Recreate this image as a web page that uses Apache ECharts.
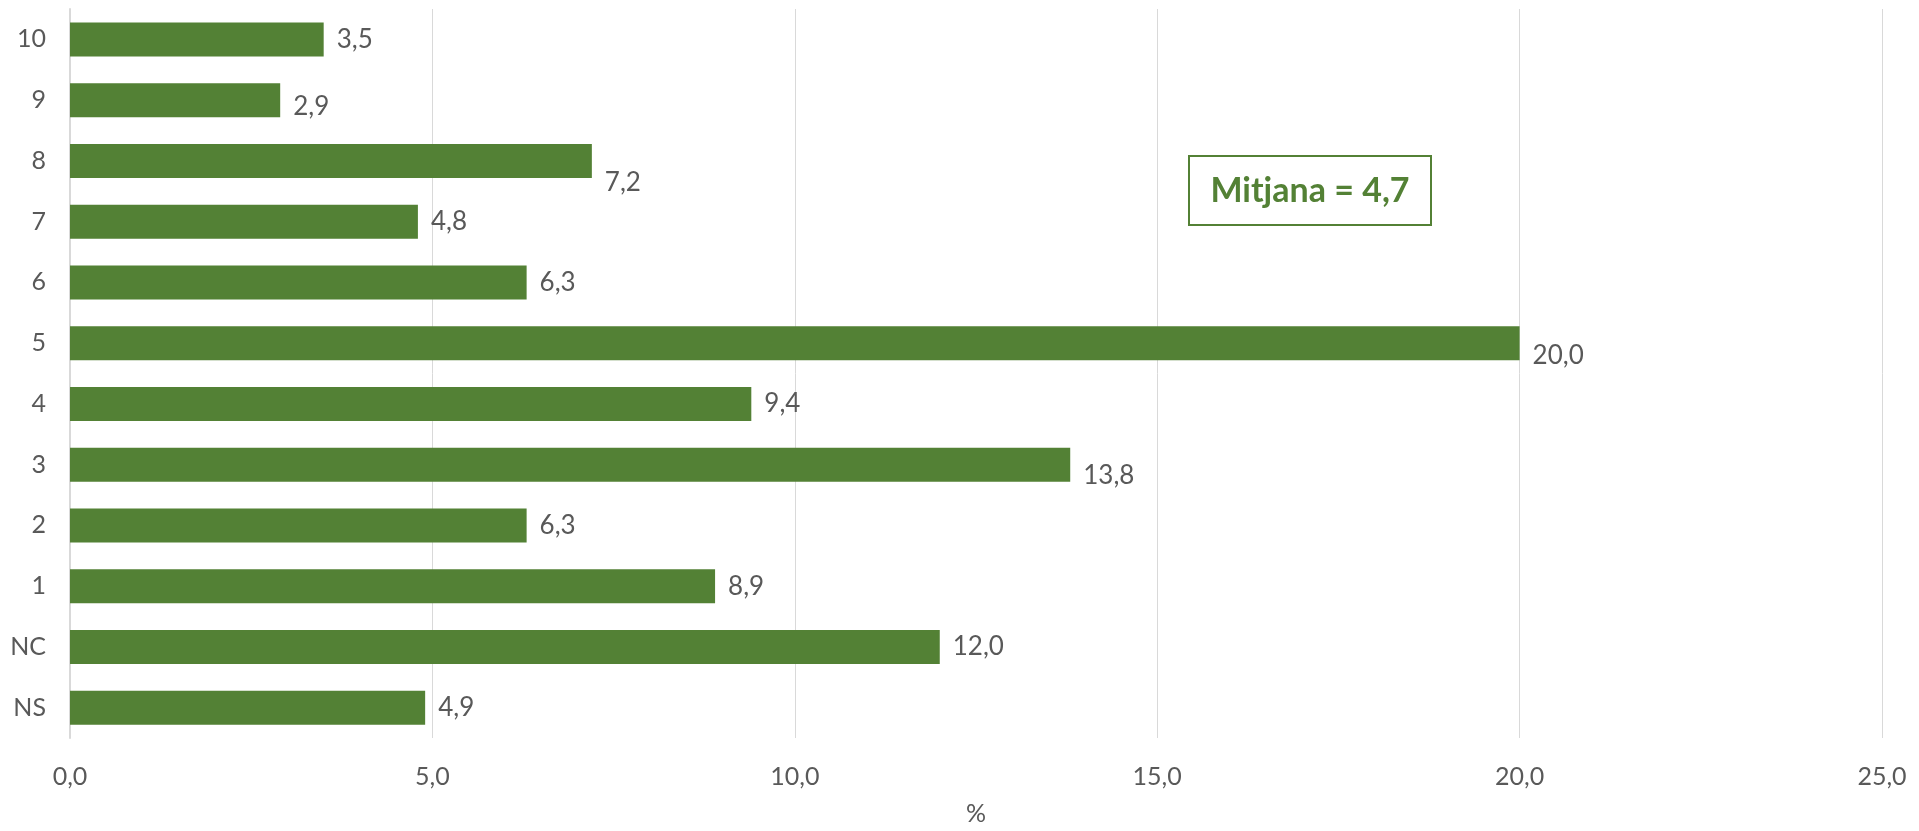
<!DOCTYPE html>
<html>
<head>
<meta charset="utf-8">
<script src="https://cdn.jsdelivr.net/npm/echarts@6/dist/echarts.min.js"></script>
<style>
html,body{margin:0;padding:0;background:#fff;}
#c{width:1919px;height:831px;}
</style>
</head>
<body>
<div id="c"></div>
<script>
const categories = ['NS', 'NC', '1', '2', '3', '4', '5', '6', '7', '8', '9', '10'];
const values = [4.9, 12.0, 8.9, 6.3, 13.8, 9.4, 20.0, 6.3, 4.8, 7.2, 2.9, 3.5];
const axisName = '%';
const meanText = 'Mitjana = 4,7';

const fmt = v => Number(v).toFixed(1).replace('.', ',');
// vertical nudges of some value labels (as in the original)
const labelNudge = { '9': 6, '8': 22, '5': 12, '3': 11 };

const FONT = 'Lato, "Open Sans", sans-serif';
const TXT = '#595959';
const GREEN = '#538135';

const chart = echarts.init(document.getElementById('c'));
chart.setOption({
  animation: false,
  backgroundColor: '#ffffff',
  grid: { left: 70, right: 37, top: 9, bottom: 93, containLabel: false },
  xAxis: {
    type: 'value', min: 0, max: 25, interval: 5,
    name: axisName, nameLocation: 'middle', nameGap: 63,
    nameTextStyle: { color: TXT, fontSize: 25, fontFamily: FONT },
    axisLine: { show: false }, axisTick: { show: false },
    splitLine: { show: true, lineStyle: { color: '#d9d9d9', width: 1 } },
    axisLabel: { color: TXT, fontSize: 25, fontFamily: FONT, margin: 26, formatter: v => fmt(v) }
  },
  yAxis: {
    type: 'category', data: categories,
    axisLine: { show: true, lineStyle: { color: '#d9d9d9', width: 2 } },
    axisTick: { show: false },
    axisLabel: { color: TXT, fontSize: 25, fontFamily: FONT, margin: 24 }
  },
  series: [{
    type: 'bar',
    barWidth: 34,
    itemStyle: { color: GREEN },
    data: values.map((v, i) => ({
      value: v,
      label: { offset: [0, labelNudge[categories[i]] || 0] }
    })),
    label: {
      show: true, position: 'right', distance: 13,
      color: TXT, fontSize: 26, fontFamily: FONT,
      formatter: p => fmt(p.value)
    }
  }],
  graphic: [{
    type: 'group', left: 1188, top: 155,
    children: [
      { type: 'rect', shape: { x: 0, y: 0, width: 242, height: 69 },
        style: { fill: '#ffffff', stroke: GREEN, lineWidth: 2 } },
      { type: 'text', x: 121, y: 35,
        style: { text: meanText, fill: GREEN, font: 'bold 34px ' + FONT, align: 'center', verticalAlign: 'middle' } }
    ]
  }]
});
</script>
</body>
</html>
